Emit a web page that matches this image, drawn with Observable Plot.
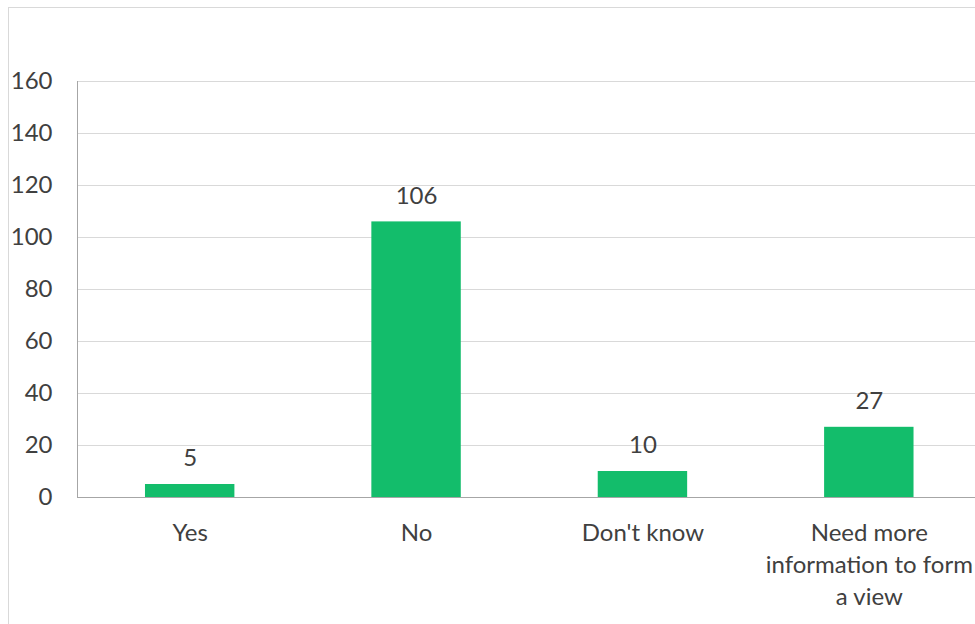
<!DOCTYPE html>
<html>
<head>
<meta charset="utf-8">
<script src="https://cdn.jsdelivr.net/npm/d3@7"></script>
<script src="https://cdn.jsdelivr.net/npm/@observablehq/plot@0.6"></script>
<style>
  html, body { margin: 0; padding: 0; background: #fff; overflow: hidden; width: 975px; height: 624px; }
  #wrap { position: relative; width: 975px; height: 624px; overflow: hidden; }
  #border { position: absolute; left: 8px; top: 7px; width: 2000px; height: 2000px; border: 1px solid #d9d9d9; box-sizing: border-box; }
  #chart { position: absolute; left: 0; top: 0; width: 990px; }
  #chart svg { max-width: none !important; }
</style>
</head>
<body>
<div id="wrap"><div id="border"></div><div id="chart"></div></div>
<script>
const categories = ["Yes", "No", "Don't know", "Need more information to form a view"];
const axisLabels = ["Yes", "No", "Don't know", "Need more\ninformation to form\na view"];
const counts = [5, 106, 10, 27];
const yTicks = [0, 20, 40, 60, 80, 100, 120, 140, 160];

const data = categories.map((c, i) => ({category: c, count: counts[i]}));
const labelOf = new Map(categories.map((c, i) => [c, axisLabels[i]]));

const font = "Lato, 'Open Sans', sans-serif";
const textColor = "#404040";
const fs = 24;

const chart = Plot.plot({
  width: 990,
  height: 624,
  marginLeft: 77,
  marginRight: 8,
  marginTop: 81,
  marginBottom: 127,
  style: {fontFamily: font, fontSize: fs + "px", color: textColor, background: "transparent"},
  x: {domain: categories, range: [76.5, 982], round: false, paddingInner: 0.605, paddingOuter: 0.3025, align: 0.5},
  y: {domain: [0, 160], ticks: yTicks},
  marks: [
    Plot.gridY(yTicks.filter(d => d > 0), {stroke: "#d9d9d9", strokeOpacity: 1}),
    Plot.barY(data, {x: "category", y: "count", fill: "#13bd6b"}),
    Plot.ruleY([0], {stroke: "#a6a6a6"}),
    Plot.frame({anchor: "left", stroke: "#a6a6a6"}),
    Plot.text(data, {x: "category", y: "count", text: d => String(d.count), dy: -26, lineAnchor: "middle", fill: textColor, fontSize: fs}),
    Plot.axisY(yTicks, {tickSize: 0, tickPadding: 25, label: null, fill: textColor, fontSize: fs}),
    Plot.axisX({tickSize: 0, tickPadding: 20, label: null, tickFormat: d => labelOf.get(d), fill: textColor, fontSize: fs, lineHeight: 1.35})
  ]
});
document.getElementById("chart").appendChild(chart);
</script>
</body>
</html>
